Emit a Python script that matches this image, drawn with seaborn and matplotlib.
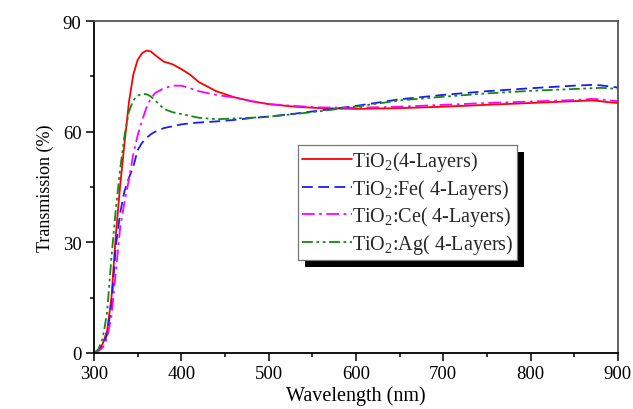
import numpy as np
import pandas as pd
import matplotlib
matplotlib.use("Agg")
import matplotlib.pyplot as plt
import matplotlib.patheffects as pe
from matplotlib.ticker import MultipleLocator
import seaborn as sns

wavelength = [300, 305, 310, 315, 320, 325, 330, 335, 340, 345, 350, 355, 360, 365, 370,
              380, 390, 400, 410, 420, 440, 460, 480, 500, 530, 560, 600, 650, 700, 750,
              800, 850, 870, 880, 890, 900]
tio2 = [0, 0.8, 2.5, 6, 15, 32, 45.5, 57, 68, 75.5, 79.5, 81.3, 82, 81.8, 80.8,
        79, 78.3, 77, 75.5, 73.5, 71, 69.4, 68.3, 67.5, 66.8, 66.4, 66.2, 66.4, 66.8, 67.3,
        67.8, 68.3, 68.5, 68.3, 68, 67.8]
tio2_fe = [0, 0.7, 2, 5, 13, 29, 38, 44, 47.5, 50.5, 55, 57, 58.3, 59.3, 60,
           61, 61.5, 62, 62.3, 62.5, 62.8, 63.2, 63.7, 64.1, 64.9, 65.8, 67, 68.8, 70, 71,
           71.8, 72.5, 72.7, 72.6, 72.3, 72]
tio2_ce = [0, 0.5, 1.5, 4, 10, 22, 34, 41, 47, 54, 59, 63, 66.5, 69, 70.5,
           71.8, 72.5, 72.5, 71.8, 71, 70, 69.3, 68.3, 67.5, 67, 66.6, 66.5, 66.8, 67.3, 67.8,
           68.2, 68.6, 68.9, 68.8, 68.5, 68.3]
tio2_ag = [0, 1, 4, 11, 26, 39, 50, 59, 65.5, 68.5, 69.8, 70.2, 70.2, 69.6, 68.5,
           66.2, 65.3, 64.8, 64.3, 63.8, 63.4, 63.6, 63.8, 64.1, 64.8, 65.6, 66.8, 68.5, 69.5, 70.4,
           71.1, 71.6, 71.8, 71.9, 71.8, 71.6]

labels = [r"TiO$_2$(4-Layers)", r"TiO$_2$:Fe( 4-Layers)",
          r"TiO$_2$:Ce( 4-Layers)", r"TiO$_2$:Ag( 4-Layers)"]
series = [tio2, tio2_fe, tio2_ce, tio2_ag]
colors = ["#FF0000", "#1A1AFF", "#FF00FF", "#138A13"]
styles = ["-", (0, (6, 3)), (0, (7, 2.5, 1.5, 2.5)), (0, (6, 2, 1.5, 2, 1.5, 2))]

sns.set_theme(style="ticks")
plt.rcParams["font.family"] = ["Liberation Serif", "DejaVu Serif"]
plt.rcParams["mathtext.fontset"] = "custom"
plt.rcParams["mathtext.rm"] = "Liberation Serif"
plt.rcParams["mathtext.it"] = "Liberation Serif:italic"

fig = plt.figure(figsize=(6.33, 4.10), dpi=100)
ax = fig.add_axes([0.1485, 0.1366, 0.8275, 0.8094])

for lab, vals, c, ls in zip(labels, series, colors, styles):
    df = pd.DataFrame({"Wavelength": wavelength, "T": vals})
    sns.lineplot(data=df, x="Wavelength", y="T", ax=ax, color=c, linestyle=ls,
                 linewidth=1.3, label=lab, estimator=None)

ax.set_xlim(300, 900)
ax.set_ylim(0, 90)
ax.xaxis.set_major_locator(MultipleLocator(100))
ax.xaxis.set_minor_locator(MultipleLocator(50))
ax.yaxis.set_major_locator(MultipleLocator(30))
ax.yaxis.set_minor_locator(MultipleLocator(15))
ax.tick_params(axis="both", which="major", direction="out", length=6, width=1.1,
               labelsize=13.5, color="black", labelcolor="black", pad=3)
ax.tick_params(axis="both", which="minor", direction="out", length=3, width=1.1, color="black")
ax.tick_params(top=False, right=False, which="both")

for s in ["left", "bottom"]:
    ax.spines[s].set_color("black")
    ax.spines[s].set_linewidth(1.3)
for s in ["top", "right"]:
    ax.spines[s].set_visible(True)
    ax.spines[s].set_color("#555555")
    ax.spines[s].set_linewidth(1.3)

ax.set_xlabel("Wavelength (nm)", fontsize=14.5, color="black", labelpad=2)
ax.set_ylabel("Transmission (%)", fontsize=13, color="black", labelpad=6)

leg = ax.legend(loc="upper left", bbox_to_anchor=(0.389, 0.627), borderaxespad=0,
                fontsize=14.5, handlelength=2.5, handletextpad=0.0, labelspacing=0.18,
                fancybox=False, frameon=True, borderpad=0.2)
frame = leg.get_frame()
frame.set_edgecolor("#777777")
frame.set_linewidth(0.9)
frame.set_facecolor("white")
frame.set_alpha(1)
frame.set_path_effects([pe.SimplePatchShadow(offset=(5, -5), shadow_rgbFace="black", alpha=1.0),
                        pe.Normal()])

fig.savefig("out.png", dpi=100)
